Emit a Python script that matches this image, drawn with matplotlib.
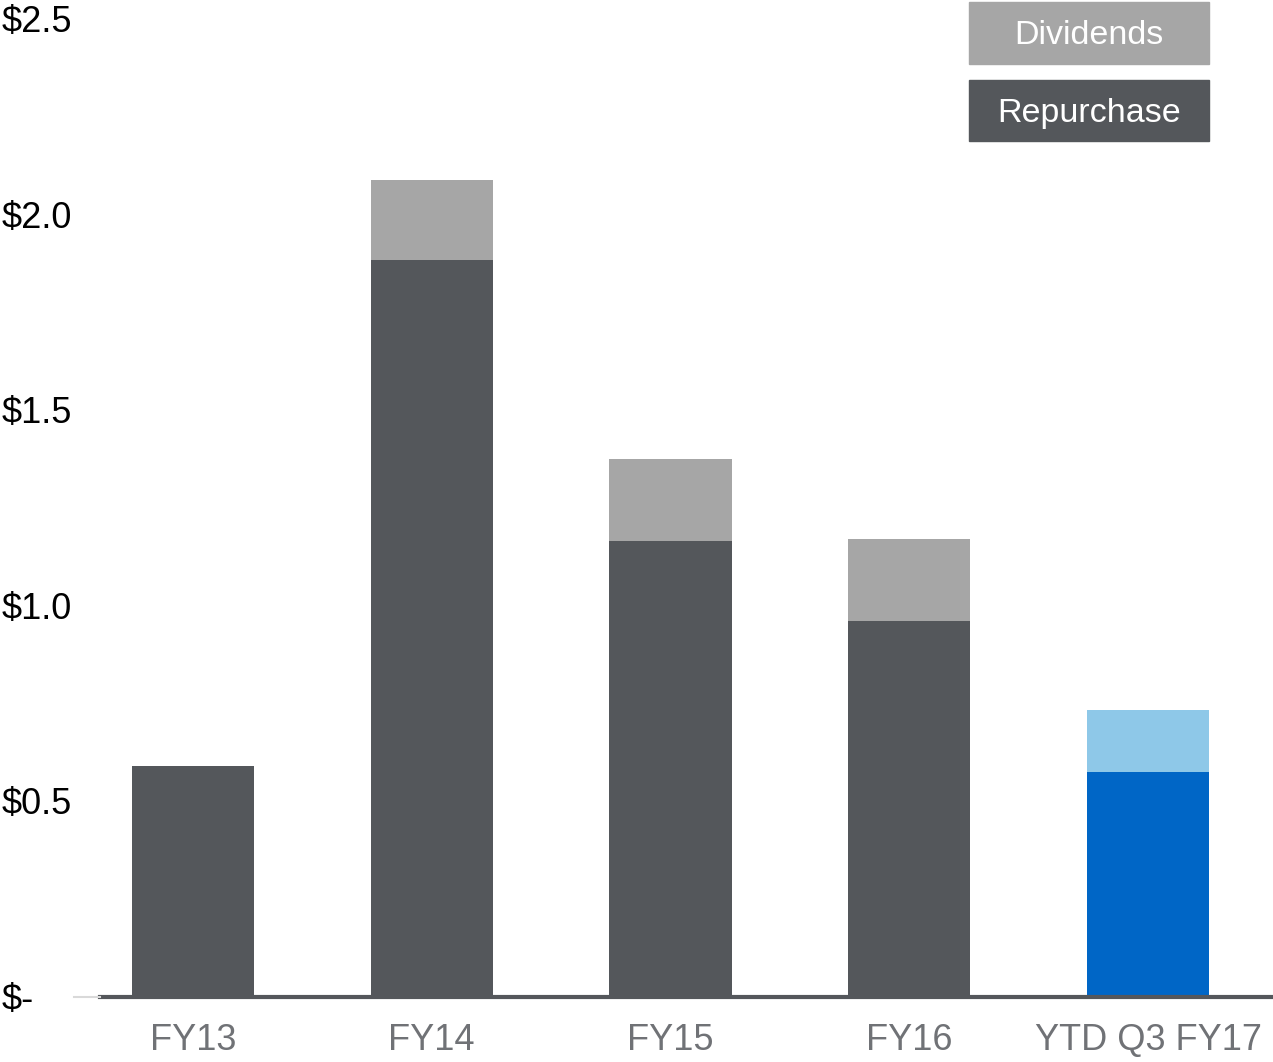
import matplotlib
matplotlib.use("Agg")
import matplotlib.pyplot as plt
from matplotlib.patches import Rectangle
from matplotlib.lines import Line2D
import matplotlib.transforms as mtransforms

categories = ["FY13", "FY14", "FY15", "FY16", "YTD Q3 FY17"]
repurchase = [0.59, 1.885, 1.166, 0.962, 0.575]
dividends = [0.0, 0.205, 0.21, 0.209, 0.159]
ytick_values = [0, 0.5, 1.0, 1.5, 2.0, 2.5]
ytick_labels = ["$-", "$0.5", "$1.0", "$1.5", "$2.0", "$2.5"]
legend_labels = ["Dividends", "Repurchase"]

dark = "#54575B"
light = "#A6A6A6"
blue = "#0066C6"
lblue = "#8EC8E8"

plt.rcParams['font.family'] = ['Liberation Sans', 'DejaVu Sans']

W, H = 1273, 1062
fig = plt.figure(figsize=(W / 100, H / 100), dpi=100)
ax = fig.add_axes([100 / W, (H - 997) / H, 1 - 100 / W, (997 - 20) / H])

x = list(range(len(categories)))
rep_colors = [dark] * (len(categories) - 1) + [blue]
div_colors = [light] * (len(categories) - 1) + [lblue]
ax.bar(x, repurchase, width=0.512, color=rep_colors, zorder=2)
ax.bar(x, dividends, bottom=repurchase, width=0.512, color=div_colors, zorder=2)

ax.set_xlim(-0.389, 4.523)
ax.set_ylim(0, 2.5)
for s in ax.spines.values():
    s.set_visible(False)
ax.axhline(0, color=dark, lw=3.0, zorder=3, clip_on=False)

ax.set_xticks(x)
ax.set_xticklabels(categories, fontsize=26, color="#707276")
ax.tick_params(axis="x", length=0, pad=18.5)
ax.set_yticks([])

trans = mtransforms.blended_transform_factory(fig.transFigure, ax.transData)
offset = mtransforms.ScaledTranslation(0, -3 / 100, fig.dpi_scale_trans)
for v, lab in zip(ytick_values, ytick_labels):
    ax.text(2 / W, v, lab, transform=trans + offset, ha="left", va="center",
            fontsize=26, color="black", clip_on=False)

# light gray stub of baseline left of the axis
fig.add_artist(Line2D([74 / W, 100 / W], [(H - 997) / H] * 2, color="#D9D9D9",
                      lw=1.5, transform=fig.transFigure))

# legend boxes
boxes = [(2, 64, light), (80, 141, dark)]
for (y0, y1, c), lab in zip(boxes, legend_labels):
    fig.add_artist(Rectangle((969 / W, (H - y1) / H), 240 / W, (y1 - y0) / H,
                             transform=fig.transFigure, color=c))
    fig.text(1089 / W, (H - (y0 + y1) / 2 - 3) / H, lab, ha="center", va="center",
             fontsize=24.5, color="white")

fig.savefig("out.png", dpi=100)
